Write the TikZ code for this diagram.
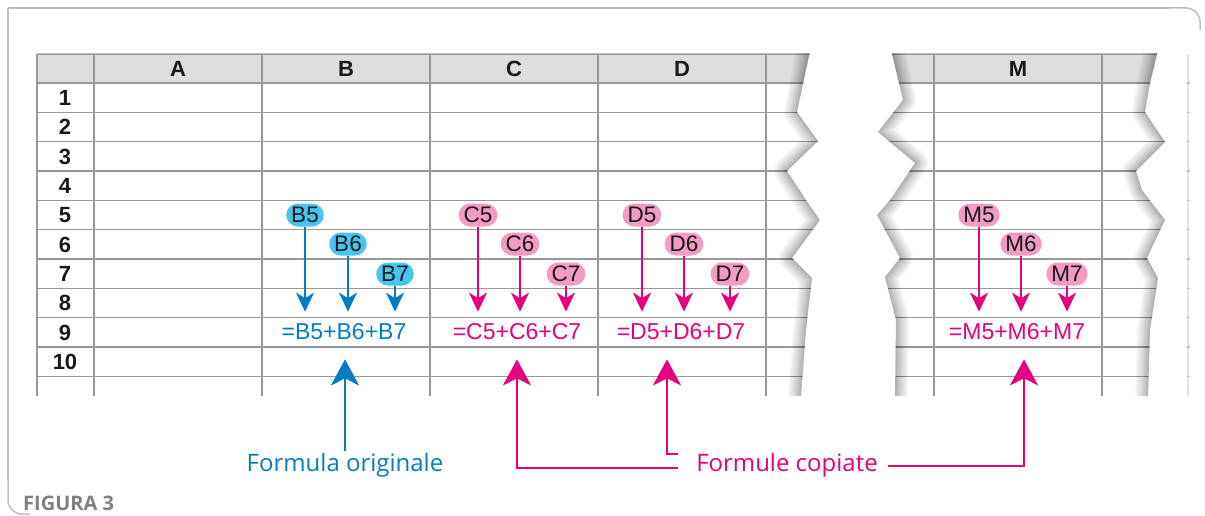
\documentclass[tikz,border=0pt]{standalone}
\usepackage{fontspec}
\setmainfont{Liberation Sans}
\newfontfamily\calloutfont{Open Sans}
\usetikzlibrary{arrows.meta}
\definecolor{gridgray}{RGB}{152,152,152}
\definecolor{headfill}{RGB}{221,222,224}
\definecolor{framegray}{RGB}{190,190,192}
\definecolor{figgray}{RGB}{128,128,130}
\definecolor{refblue}{RGB}{0,125,195}
\definecolor{bubblecyan}{RGB}{72,196,240}
\definecolor{refmagenta}{RGB}{230,0,126}
\definecolor{bubblepink}{RGB}{243,155,195}

\begin{document}
\begin{tikzpicture}[x=1pt, y=-1pt,
            colhead/.style={font=\fontsize{22}{22}\selectfont\bfseries, text=black!90},
            rowhead/.style={font=\fontsize{22}{22}\selectfont\bfseries, text=black!90},
            cellref/.style={rounded corners=11.5pt, minimum height=23pt, inner xsep=5pt,
                inner ysep=0pt, font=\fontsize{22.5}{23}\selectfont, text=black!90},
            bluecell/.style={cellref, fill=bubblecyan},
            pinkcell/.style={cellref, fill=bubblepink},
            formula/.style={inner sep=0pt, font=\fontsize{23}{24}\selectfont},
            callout/.style={inner sep=2pt, anchor=base, font=\calloutfont\fontsize{24}{24}\selectfont},
            link/.style={line width=1.6pt, -{Stealth[length=19pt, width=18pt, inset=5.5pt]}, shorten >=12pt},
            biglink/.style={line width=2pt, -{Stealth[length=26pt, width=28pt, inset=7pt]}, shorten >=19pt},
            gridline/.style={gridgray, line width=1.3pt},
            rip/.style={black, opacity=.045, line join=round},
        ]
            \useasboundingbox (0,0) rectangle (1205,516);

            \draw[framegray, line width=1.5pt] (8,8) -- (8,480);
            \draw[framegray, line width=1.5pt, rounded corners=14pt] (8,470) -- (8,514) -- (30,514);
            \draw[framegray, line width=1.5pt] (8,8) -- (1170,8);
            \draw[framegray, line width=1.5pt, rounded corners=14pt] (1160,8) -- (1200,8) -- (1200,30);

            % left part of the sheet
            \begin{scope}
                \clip (30,53.3) -- (809.6,53.3) -- (797,112) -- (818,141) -- (787,171) -- (806,200)
                    -- (820,220) -- (792,258) -- (812,278) -- (806,330) -- (801,396) -- (30,396) -- cycle;
                \fill[headfill] (37,54) rectangle (830,83);
                \draw[gridline] (37,54) -- (830,54);
                \foreach \r in {0,...,10}
                    \draw[gridline] (37,{83+29.33*\r}) -- (830,{83+29.33*\r});
                \foreach \x in {37,94,262,430,598,766}
                    \draw[gridline] (\x,54) -- (\x,396);
                \foreach \w in {26,22,18,14,11,8,5,3}
                    \draw[rip, line width=\w pt] (811,40) -- (797,112) -- (818,141) -- (787,171) -- (806,200)
                        -- (820,220) -- (792,258) -- (812,278) -- (806,330) -- (800,410);
            \end{scope}

            % right part of the sheet
            \begin{scope}
                \clip (891.8,53.3) -- (903,100) -- (878,132) -- (915,163) -- (890,200) -- (877,215)
                    -- (900,258) -- (885,277) -- (896,320) -- (895,396) -- (1148,396) -- (1150,330)
                    -- (1158,278) -- (1147,258) -- (1165,220) -- (1142,190) -- (1136,171) -- (1165,142)
                    -- (1145,112) -- (1150,83) -- (1157.3,53.3) -- cycle;
                \fill[headfill] (870,54) rectangle (1170,83);
                \draw[gridline] (870,54) -- (1170,54);
                \foreach \r in {0,...,10}
                    \draw[gridline] (870,{83+29.33*\r}) -- (1170,{83+29.33*\r});
                \foreach \x in {934,1102}
                    \draw[gridline] (\x,54) -- (\x,396);
                \foreach \w in {26,22,18,14,11,8,5,3} {
                    \draw[rip, line width=\w pt] (889,40) -- (903,100) -- (878,132) -- (915,163) -- (890,200)
                        -- (877,215) -- (900,258) -- (885,277) -- (896,320) -- (895,410);
                    \draw[rip, line width=\w pt] (1159,40) -- (1150,83) -- (1145,112) -- (1165,142) -- (1136,171)
                        -- (1142,190) -- (1165,220) -- (1147,258) -- (1158,278) -- (1150,330) -- (1148,410);
                }
            \end{scope}

            \draw[black!10, line width=1.5pt] (1188,54) -- (1188,396);
            \foreach \r in {0,...,10}
                \draw[black!25, line width=1.3pt] (1187,{83+29.33*\r}) -- (1190,{83+29.33*\r});

            \foreach \l/\x in {A/178, B/346, C/514, D/682, M/1018}
                \node[colhead] (h\l) at (\x,68.5) {\l};
            \foreach \r in {1,...,10}
                \node[rowhead] (r\r) at (65,{68.5+29.33*\r}) {\r};

            \node[formula, text=refblue] (fB) at (344,332) {=B5+B6+B7};
            \node[formula, text=refmagenta] (fC) at (517,332) {=C5+C6+C7};
            \node[formula, text=refmagenta] (fD) at (681,332) {=D5+D6+D7};
            \node[formula, text=refmagenta] (fM) at (1017,332) {=M5+M6+M7};

            \node[bluecell] (B5) at (305,215) {B5};
            \node[bluecell] (B6) at (348,244) {B6};
            \node[bluecell] (B7) at (395,274) {B7};
            \foreach \n in {5,6,7}
                \draw[link, refblue] (B\n.south) -- (B\n.south |- fB.north);

            \foreach \c/\x in {C/478, D/642, M/979} {
                \node[pinkcell] (\c5) at (\x,215) {\c5};
                \node[pinkcell] (\c6) at (\x+42,244) {\c6};
                \node[pinkcell] (\c7) at (\x+88,274) {\c7};
                \foreach \n in {5,6,7}
                    \draw[link, refmagenta] (\c\n.south) -- (\c\n.south |- f\c.north);
            }

            \node[callout, text=refblue] (orig) at (345,471) {Formula originale};
            \node[callout, text=refmagenta] (copied) at (787,471) {Formule copiate};
            \draw[biglink, refblue] (orig.north) -- (orig.north |- fB.south);
            \draw[biglink, refmagenta] ([xshift=-16pt, yshift=3pt]copied.base west) -| (fC.south);
            \draw[biglink, refmagenta] ([xshift=-16pt, yshift=17pt]copied.base west) -| ([xshift=-14pt]fD.south);
            \draw[biglink, refmagenta] ([xshift=8pt, yshift=5pt]copied.base east) -| ([xshift=7pt]fM.south);

            \node[anchor=base west, inner sep=0pt, text=figgray,
                font=\calloutfont\bfseries\fontsize{20}{20}\selectfont] (fig) at (23,510) {FIGURA 3};
        \end{tikzpicture}
\end{document}
